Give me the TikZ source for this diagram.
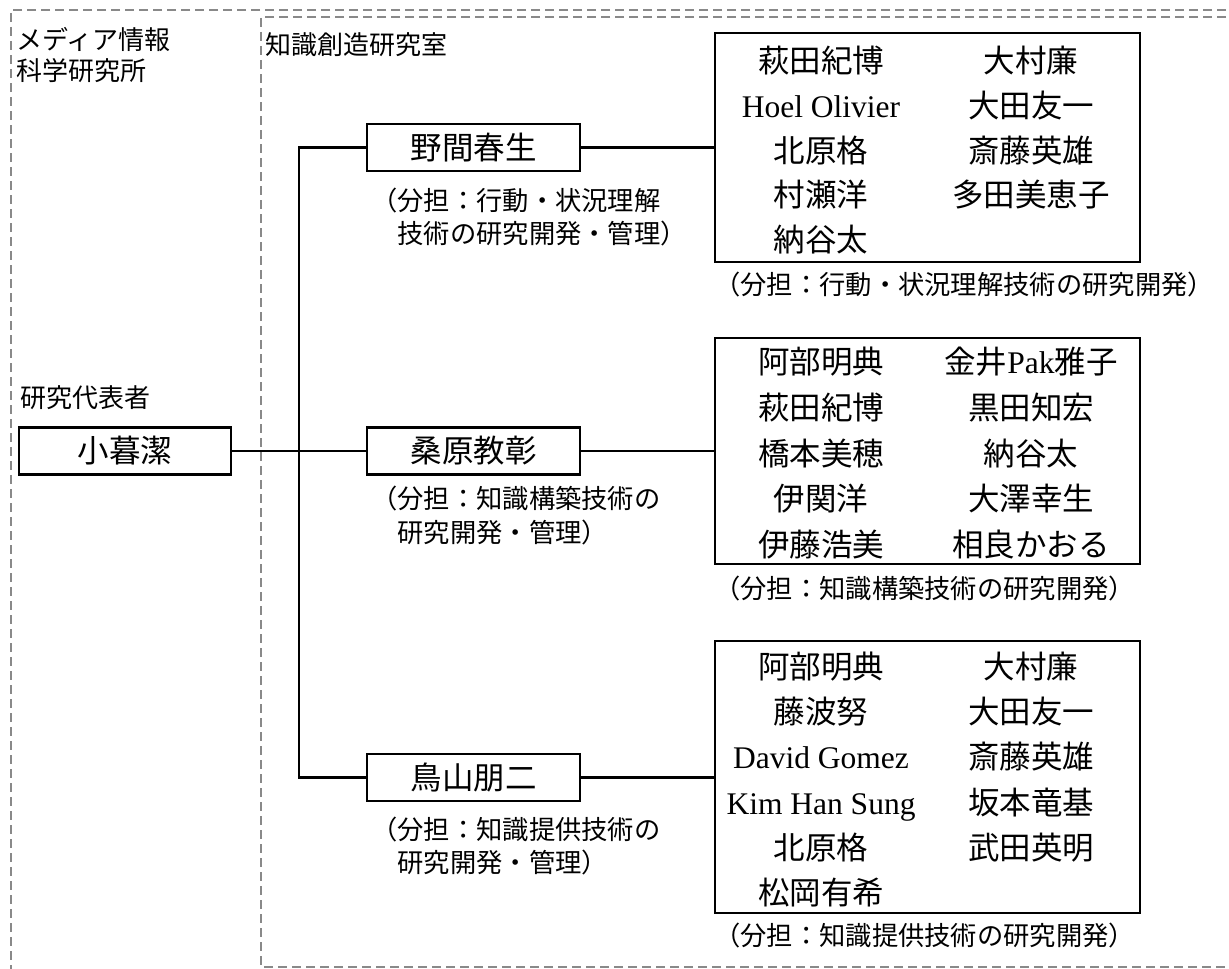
\documentclass[tikz,border=0pt]{standalone}
\usepackage{fontspec}
\setmainfont{Liberation Serif}
\newfontfamily\jp{Noto Sans CJK JP}
\newcommand{\lat}[1]{{\rmfamily #1}}
\definecolor{dashgray}{HTML}{898989}
\begin{document}
\begin{tikzpicture}[x=1pt,y=-1pt,
  dashframe/.style={draw=dashgray,line width=2.4pt,dash pattern=on 9pt off 5pt},
  conn/.style={draw=black,line width=2.2pt},
  lab/.style={font=\jp\fontsize{26}{31}\selectfont,inner sep=0pt,align=left},
  rolecap/.style={font=\jp\fontsize{26.3}{33}\selectfont,inner sep=0pt,align=left},
  person/.style={draw=black,line width=2.2pt,inner sep=0pt,minimum width=213pt,minimum height=47pt,font=\jp\fontsize{31.5}{36}\selectfont},
  group/.style={draw=black,line width=2.2pt,inner sep=0pt,minimum width=425pt},
  member/.style={font=\jp\fontsize{31.5}{36}\selectfont,inner sep=0pt,anchor=base}
]
\useasboundingbox (0,0) rectangle (1229,969);
% frames
\draw[dashframe] (1240,10) -- (11,10) -- (11,980);
\draw[dashframe] (1240,17) -- (261,17) -- (261,967) -- (1240,967);
% labels
\node[lab,anchor=west] (inst) at (16,55.5) {メディア情報\\科学研究所};
\node[lab,anchor=west] (room) at (265,45) {知識創造研究室};
\node[lab,anchor=west] (rep) at (20,398) {研究代表者};
% person boxes
\node[person,minimum width=212pt] (kogure) at (125,451) {小暮潔};
\node[person] (noma) at (473.5,147.5) {野間春生};
\node[person] (kuwa) at (473.5,451) {桑原教彰};
\node[person] (tori) at (473.5,777.5) {鳥山朋二};
% role captions
\node[rolecap,anchor=west] (nomacap) at (371,217.5) {（分担：行動・状況理解\\　技術の研究開発・管理）};
\node[rolecap,anchor=west] (kuwacap) at (371,515.5) {（分担：知識構築技術の\\　研究開発・管理）};
\node[rolecap,anchor=west] (toricap) at (371,845.5) {（分担：知識提供技術の\\　研究開発・管理）};
% group boxes
\node[group,minimum height=229pt] (g1) at (927.5,147.5) {};
\node[group,minimum height=226pt] (g2) at (927.5,451) {};
\node[group,minimum height=272pt] (g3) at (927.5,777) {};
\node[rolecap,anchor=west] (g1cap) at (714,285) {（分担：行動・状況理解技術の研究開発）};
\node[rolecap,anchor=west] (g2cap) at (714,588) {（分担：知識構築技術の研究開発）};
\node[rolecap,anchor=west] (g3cap) at (714,935) {（分担：知識提供技術の研究開発）};
% members group 1
\foreach \t [count=\i] in {萩田紀博,\lat{Hoel Olivier},北原格,村瀬洋,納谷太}
  \node[member] (ga\i) at (821,{61+44.75*(\i-1)+11.5}) {\t};
\foreach \t [count=\i] in {大村廉,大田友一,斎藤英雄,多田美恵子}
  \node[member] (gb\i) at (1031,{61+44.75*(\i-1)+11.5}) {\t};
% members group 2
\foreach \t [count=\i] in {阿部明典,萩田紀博,橋本美穂,伊関洋,伊藤浩美}
  \node[member] (ha\i) at (821,{362+45.8*(\i-1)+11.5}) {\t};
\foreach \t [count=\i] in {金井\lat{Pak}雅子,黒田知宏,納谷太,大澤幸生,相良かおる}
  \node[member] (hb\i) at (1031,{362+45.8*(\i-1)+11.5}) {\t};
% members group 3
\foreach \t [count=\i] in {阿部明典,藤波努,\lat{David Gomez},\lat{Kim Han Sung},北原格,松岡有希}
  \node[member] (ka\i) at (821,{667+45.2*(\i-1)+11.5}) {\t};
\foreach \t [count=\i] in {大村廉,大田友一,斎藤英雄,坂本竜基,武田英明}
  \node[member] (kb\i) at (1031,{667+45.2*(\i-1)+11.5}) {\t};
% connectors
\coordinate (jtop) at (299,147.5);
\coordinate (jbot) at (299,777.5);
\draw[conn] (kogure.east) -- (kuwa.west);
\draw[conn] (noma.west) -- (jtop) -- (jbot) -- (tori.west);
\draw[conn] (noma.east) -- (noma.east -| g1.west);
\draw[conn] (kuwa.east) -- (kuwa.east -| g2.west);
\draw[conn] (tori.east) -- (tori.east -| g3.west);
\end{tikzpicture}
\end{document}
